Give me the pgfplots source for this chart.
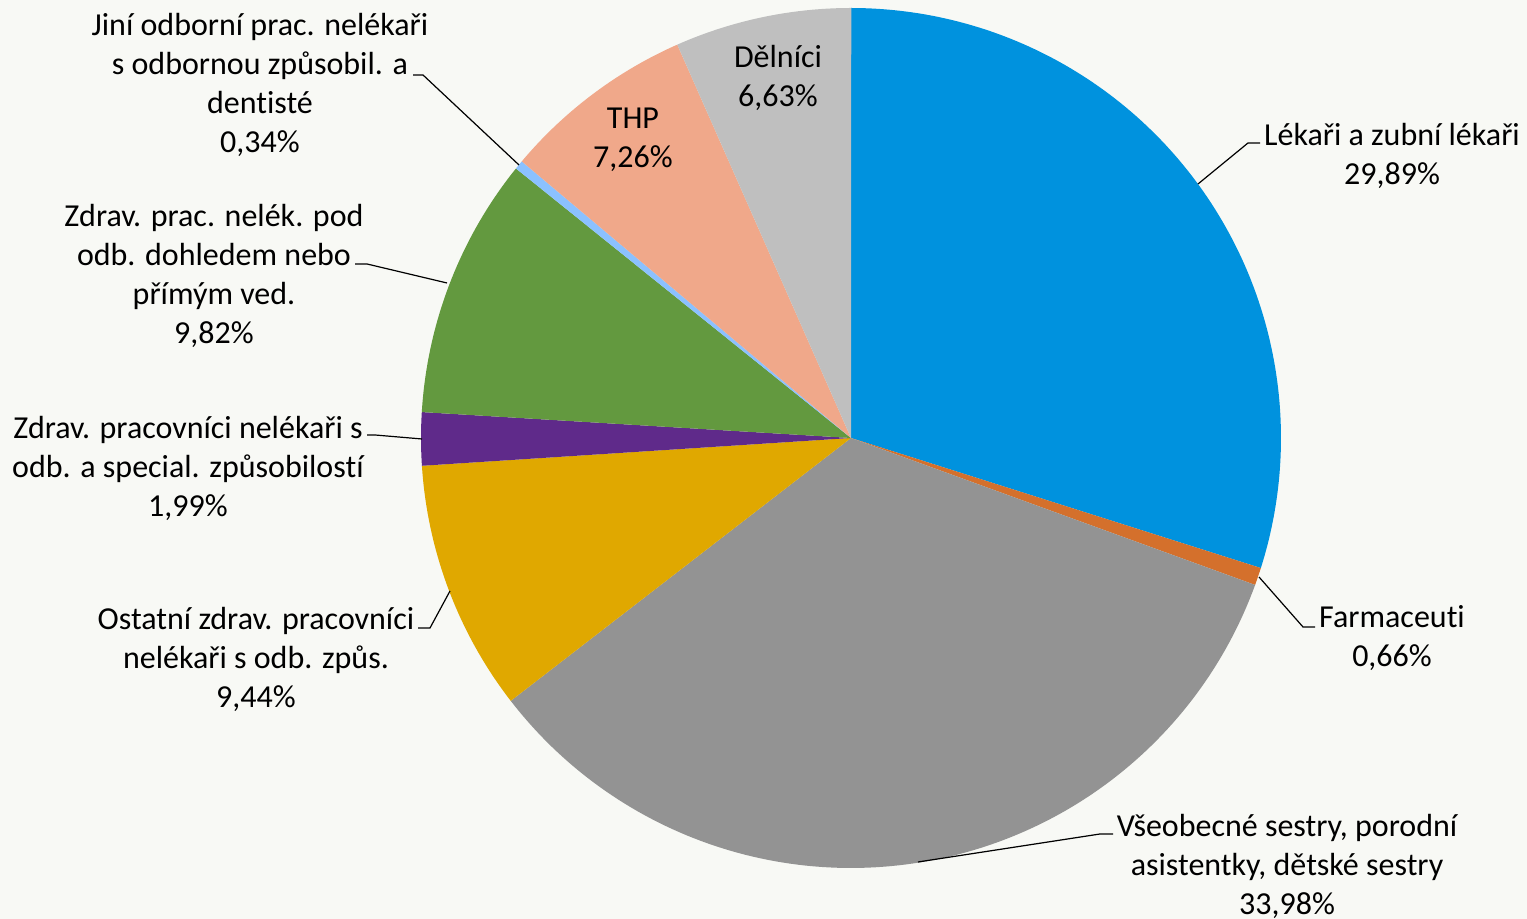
\documentclass[border=0pt]{standalone}
\usepackage{pgfplots}
\usepackage{pgfplotstable}
\pgfplotsset{compat=1.18}
\usepackage{fontspec}
\setmainfont{Carlito}[Ligatures=NoCommon]
\definecolor{bgcol}{RGB}{248,249,245}
\definecolor{cA}{RGB}{0,146,222}
\definecolor{cB}{RGB}{212,112,44}
\definecolor{cC}{RGB}{147,147,147}
\definecolor{cD}{RGB}{224,168,0}
\definecolor{cE}{RGB}{95,42,138}
\definecolor{cF}{RGB}{99,153,63}
\definecolor{cG}{RGB}{139,193,255}
\definecolor{cH}{RGB}{240,168,138}
\definecolor{cI}{RGB}{191,191,191}

\pgfplotstableread[col sep=comma]{
v,col
29.89,cA
0.66,cB
33.98,cC
9.44,cD
1.99,cE
9.82,cF
0.34,cG
7.26,cH
6.63,cI
}\piedata

\begin{document}
\begin{tikzpicture}[font=\fontsize{16}{19.5}\selectfont]
\begin{axis}[
  width=763.5pt, height=459.5pt, scale only axis,
  xmin=0, xmax=1527, ymin=0, ymax=919,
  axis lines=none, ticks=none,
  axis background/.style={fill=bgcol},
  clip=false,
]
\pgfplotstablegetrowsof{\piedata}
\pgfmathtruncatemacro\N{\pgfplotsretval-1}
\gdef\cum{0}
\pgfplotsforeachungrouped \i in {0,...,\N}{
  \pgfplotstablegetelem{\i}{v}\of\piedata \let\v\pgfplotsretval
  \pgfplotstablegetelem{\i}{col}\of\piedata \let\c\pgfplotsretval
  \pgfmathsetmacro\a{90-3.6*\cum}
  \pgfmathsetmacro\b{90-3.6*(\cum+\v)}
  \pgfmathsetmacro\cum{\cum+\v}
  \xdef\cum{\cum}
  \edef\temp{\noexpand\addplot[fill=\c, draw=none, domain=\b:\a, samples=120, variable=\noexpand\t] ({851+430*cos(\noexpand\t)},{481+430*sin(\noexpand\t)}) -- (axis cs:851,481) -- cycle;}
  \temp
}
% leader lines
\addplot[black, line width=0.6pt] coordinates {(413,844) (423,844) (519,754)};
\addplot[black, line width=0.6pt] coordinates {(355,655) (367,655) (447,636)};
\addplot[black, line width=0.6pt] coordinates {(367,484) (375,484) (422,480)};
\addplot[black, line width=0.6pt] coordinates {(418,291) (430,291) (450,328)};
\addplot[black, line width=0.6pt] coordinates {(1198,735) (1248,776) (1260,776)};
\addplot[black, line width=0.6pt] coordinates {(1259,342) (1303,292) (1315,292)};
\addplot[black, line width=0.6pt] coordinates {(918,57) (1100,85) (1113,85)};
% labels
\node[align=center, inner sep=0] at (axis cs:260,834) {Jiní odborní prac. nelékaři\\s odbornou způsobil. a\\dentisté\\0,34\%};
\node[align=center, inner sep=0] at (axis cs:214,643.5) {Zdrav. prac. nelék. pod\\odb. dohledem nebo\\přímým ved.\\9,82\%};
\node[align=center, inner sep=0] at (axis cs:188,451) {Zdrav. pracovníci nelékaři s\\odb. a special. způsobilostí\\1,99\%};
\node[align=center, inner sep=0] at (axis cs:256,260) {Ostatní zdrav. pracovníci\\nelékaři s odb. způs.\\9,44\%};
\node[align=center, inner sep=0] at (axis cs:1287,53) {Všeobecné sestry, porodní\\asistentky, dětské sestry\\33,98\%};
\node[align=center, inner sep=0] at (axis cs:1392,763.5) {Lékaři a zubní lékaři\\29,89\%};
\node[align=center, inner sep=0] at (axis cs:1392,280.5) {Farmaceuti\\0,66\%};
\node[align=center, inner sep=0] at (axis cs:633,779.5) {THP\\7,26\%};
\node[align=center, inner sep=0] at (axis cs:778,841.5) {Dělníci\\6,63\%};
\end{axis}
\end{tikzpicture}
\end{document}
